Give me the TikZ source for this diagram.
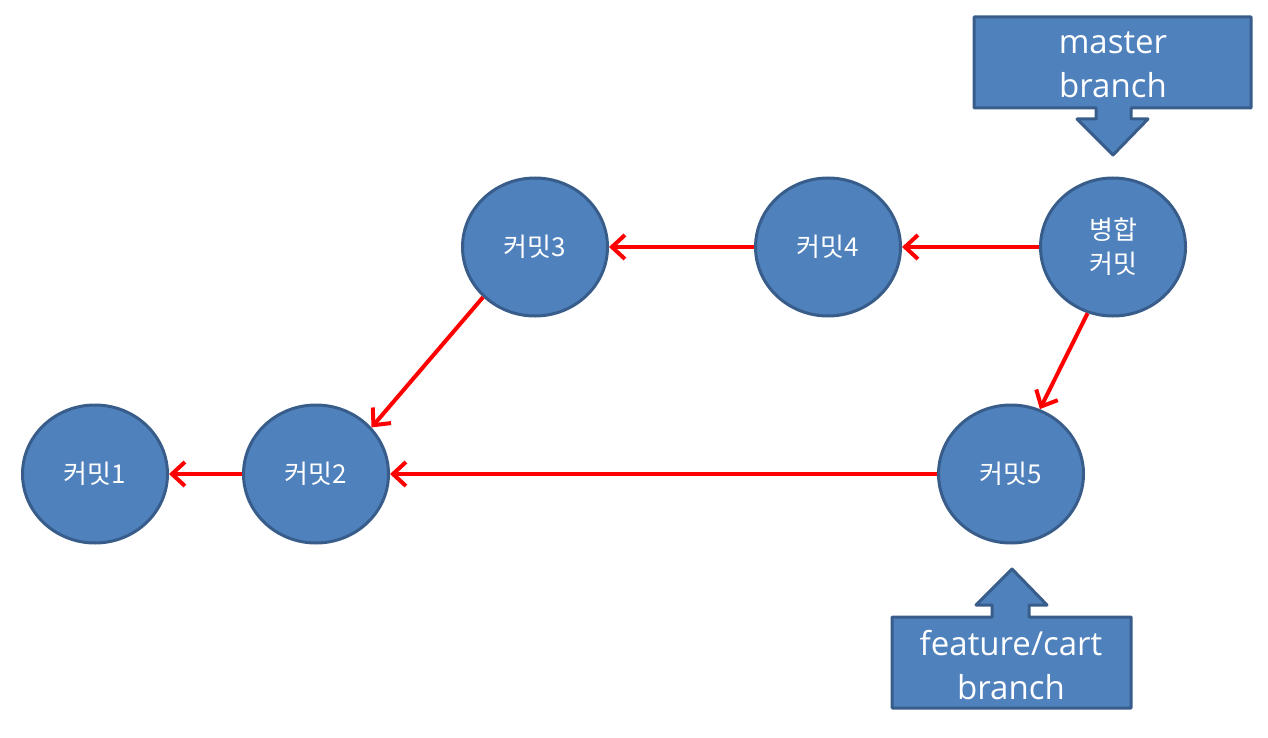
\documentclass[tikz,border=0pt]{standalone}
\usepackage{fontspec}
\setmainfont{Open Sans}
\newfontfamily\kr{Noto Sans CJK KR}
\usetikzlibrary{arrows.meta,shapes.geometric}
\definecolor{cfill}{HTML}{4F81BD}
\definecolor{cline}{HTML}{385D8A}
\begin{document}
\begin{tikzpicture}[x=1pt,y=-1pt,
  commit/.style={ellipse, draw=cline, fill=cfill, line width=3, minimum width=145, minimum height=138, inner sep=0, text=white, font=\kr\fontsize{26}{34}\selectfont, align=center},
  link/.style={draw=red, line width=4, -{Straight Barb[length=13,width=24]}},
  callout/.style={draw=cline, fill=cfill, line width=3, line join=round},
  calltext/.style={text=white, font=\fontsize{33}{44}\selectfont, align=center}]
\useasboundingbox (0,0) rectangle (1268,738);

\node[commit] (c1) at (95,474) {커밋1};
\node[commit] (c2) at (316,474) {커밋2};
\node[commit] (c3) at (535,247) {커밋3};
\node[commit] (c4) at (828,247) {커밋4};
\node[commit] (m) at (1113,247) {병합\\커밋};
\node[commit] (c5) at (1011,474) {커밋5};

\draw[callout] (974,17) -- (1251,17) -- (1251,108) -- (1131,108) -- (1131,119) -- (1148,119) -- (1113,155) -- (1077,119) -- (1096,119) -- (1096,108) -- (974,108) -- cycle;
\node[calltext] (mlabel) at (1113,65) {master\\branch};

\draw[callout] (892,617) -- (992,617) -- (992,605) -- (976,605) -- (1012,569) -- (1047,605) -- (1029,605) -- (1029,617) -- (1131,617) -- (1131,708) -- (892,708) -- cycle;
\node[calltext] (flabel) at (1011,665) {feature/cart\\branch};

\draw[link] (m.west) -- (c4.east);
\draw[link] (c4.west) -- (c3.east);
\draw[link] (m.-111) -- (c5.66);
\draw[link] (c3.224) -- (c2.40);
\draw[link] (c5.west) -- (c2.east);
\draw[link] (c2.west) -- (c1.east);
\end{tikzpicture}
\end{document}
